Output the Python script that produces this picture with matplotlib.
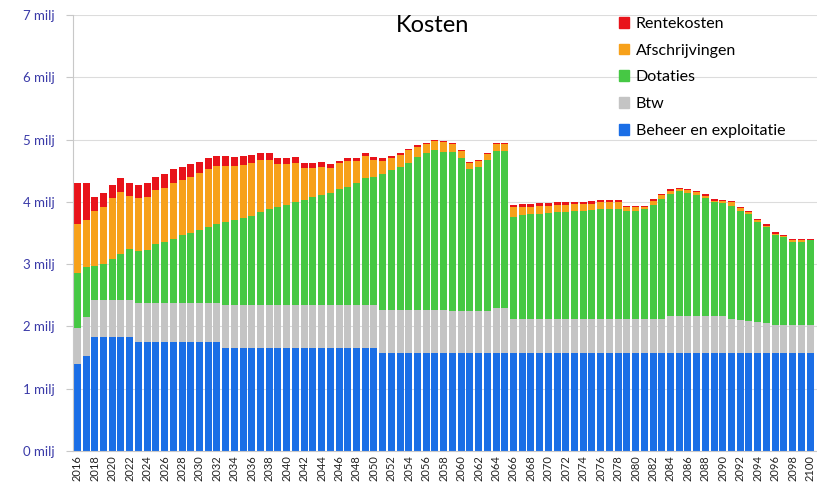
import matplotlib.pyplot as plt
from matplotlib.patches import Patch
import numpy as np

plt.rcParams.update({'font.family': ['Lato', 'DejaVu Sans']})

# jaren 2016 t/m 2100
years = list(range(2016, 2101))

# kosten in miljoen euro per jaar
beheer = [1.40, 1.52] + [1.83] * 5 + [1.75] * 10 + [1.66] * 18 + [1.57] * 50

btw = ([0.57, 0.63] + [0.59] * 5 + [0.62] * 10 + [0.68] * 18
       + [0.70] * 8 + [0.68] * 5 + [0.73] * 2
       + [0.55] * 18 + [0.59] * 7 + [0.55, 0.53, 0.51, 0.50, 0.48] + [0.46] * 5)

dotaties = [0.88, 0.81, 0.55, 0.59, 0.67, 0.75, 0.83, 0.84, 0.86, 0.96,
            0.99, 1.04, 1.10, 1.13, 1.18, 1.23, 1.28, 1.34, 1.37, 1.40,
            1.43, 1.50, 1.54, 1.57, 1.61, 1.65, 1.69, 1.73, 1.77, 1.81,
            1.86, 1.90, 1.96, 2.04, 2.06, 2.18, 2.24, 2.29, 2.36, 2.45,
            2.51, 2.56, 2.53, 2.55, 2.45, 2.27, 2.31, 2.43, 2.52, 2.52,
            1.64, 1.67, 1.68, 1.69, 1.70, 1.71, 1.72, 1.73, 1.74, 1.75,
            1.76, 1.76, 1.76, 1.74, 1.74, 1.76, 1.83, 1.92, 1.97, 2.01,
            1.99, 1.95, 1.90, 1.83, 1.82, 1.81, 1.76, 1.72, 1.61, 1.54,
            1.44, 1.40, 1.33, 1.33, 1.35]

afschrijvingen = [0.79, 0.75, 0.89, 0.90, 0.97, 0.99, 0.84, 0.85, 0.85, 0.86,
                  0.87, 0.90, 0.88, 0.90, 0.91, 0.92, 0.92, 0.89, 0.86, 0.85,
                  0.86, 0.83, 0.79, 0.70, 0.65, 0.64, 0.52, 0.48, 0.45, 0.39,
                  0.42, 0.41, 0.35, 0.35, 0.28, 0.21, 0.19, 0.20, 0.20, 0.16,
                  0.15, 0.15, 0.16, 0.13, 0.11, 0.10, 0.09, 0.09, 0.11, 0.11,
                  0.15, 0.13, 0.12, 0.13, 0.12, 0.12, 0.11, 0.11, 0.10, 0.10,
                  0.11, 0.11, 0.11, 0.06, 0.06, 0.04, 0.07, 0.07, 0.05, 0.04,
                  0.04, 0.05, 0.04, 0.03, 0.03, 0.07, 0.04, 0.04, 0.03, 0.03,
                  0.02, 0.02, 0.02, 0.02, 0.01]

rente = ([0.67, 0.60, 0.22, 0.23, 0.21, 0.22, 0.22, 0.21, 0.22, 0.21,
          0.22, 0.21, 0.21, 0.21, 0.18, 0.18, 0.16, 0.16, 0.15, 0.14,
          0.13, 0.12, 0.12, 0.10, 0.10, 0.09, 0.08, 0.08, 0.08, 0.06,
          0.04, 0.05, 0.05, 0.05, 0.04, 0.04, 0.03, 0.03, 0.02, 0.03]
         + [0.02] * 10 + [0.04] * 13 + [0.02] * 22)

series = [("Beheer en exploitatie", beheer, '#1a6ee6'),
          ("Btw", btw, '#c4c4c4'),
          ("Dotaties", dotaties, '#46c844'),
          ("Afschrijvingen", afschrijvingen, '#f7a11a'),
          ("Rentekosten", rente, '#e8131a')]

x = np.arange(len(years))

fig = plt.figure(figsize=(8.17, 4.92), dpi=100)
ax = fig.add_axes([73/817, 41/492, 1 - 73/817, 436/492])

bottom = np.zeros(len(years))
for name, vals, col in series:
    ax.bar(x, vals, width=0.8, bottom=bottom, color=col, label=name, zorder=2)
    bottom = bottom + np.array(vals)

# laatste label (2100) moet nog net binnen het plaatje passen
ax.set_xlim(-0.5, 84.8)
ax.set_ylim(0, 7)
ax.set_yticks(range(8))
ax.set_yticklabels([str(i) + " milj" for i in range(8)], color='#3a3aa8', fontsize=9.5)
ax.yaxis.grid(True, color='#dcdcdc', linewidth=0.8, zorder=0)
ax.tick_params(axis='y', length=5, color='#c8c8c8', pad=8)

ax.set_xticks(x[::2])
ax.set_xticklabels([str(y) for y in years[::2]], rotation=90, fontsize=8, color='#222222')
ax.tick_params(axis='x', length=0, pad=3)

for s in ['top', 'right']:
    ax.spines[s].set_visible(False)
ax.spines['left'].set_color('#c8c8c8')
ax.spines['bottom'].set_color('#c8c8c8')

fig.text(0.530, 0.948, "Kosten", fontsize=17, ha='center', va='center')

handles = [Patch(color=col, label=name) for name, vals, col in series[::-1]]
fig.legend(handles=handles, loc='upper left', bbox_to_anchor=(0.740, 0.995),
           frameon=False, fontsize=11.5, handlelength=0.65, handleheight=0.65,
           handletextpad=0.4, labelspacing=0.8)

plt.savefig("out.png", dpi=100)
